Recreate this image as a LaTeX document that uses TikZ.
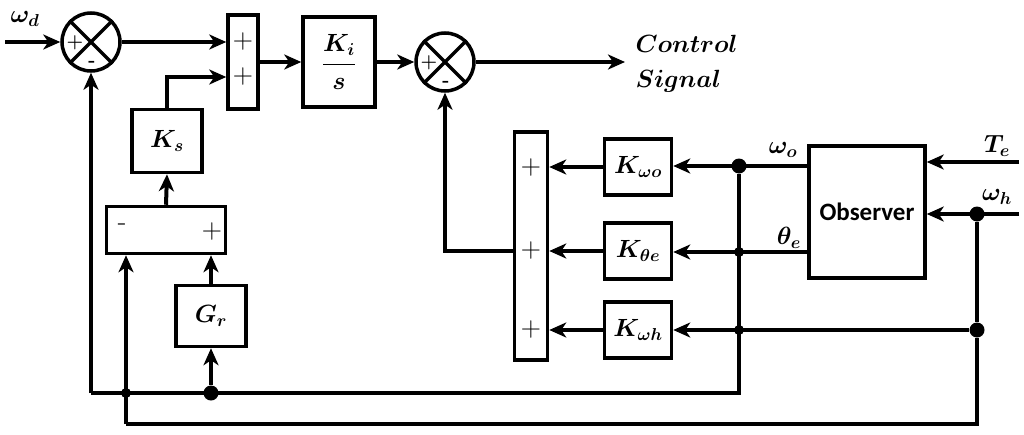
\documentclass[tikz,border=0pt]{standalone}
\usepackage{amsmath}
\usepackage{fontspec}
\setsansfont{Carlito}
\usetikzlibrary{arrows.meta}

\begin{document}
\begin{tikzpicture}[x=1pt, y=-1pt,
		blk/.style = {draw, line width=3.5pt, rectangle, inner sep=0pt},
		sumc/.style = {draw, line width=3.5pt, circle, minimum size=58pt, inner sep=0pt},
		sig/.style = {line width=4pt, -{Stealth[length=17pt,width=15pt,inset=5pt]}},
		wire/.style = {line width=4pt},
		lbl/.style = {font=\fontsize{24}{28}\selectfont\boldmath},
		pls/.style = {font=\fontsize{28}{30}\selectfont, inner sep=0pt},
		cpl/.style = {font=\fontsize{19}{20}\selectfont\bfseries, inner sep=0pt},
		dot/.style = {circle, fill, inner sep=0pt, minimum size=15pt},
		sdot/.style = {circle, fill, inner sep=0pt, minimum size=10pt}]
	\useasboundingbox (0,0) rectangle (1024,434);

	% forward path
	\node[sumc] (s1) at (91,42) {};
	\draw[line width=3.5pt] (s1.north west) -- (s1.south east) (s1.north east) -- (s1.south west);
	\node[cpl] (s1p) at (75,43) {+};
	\node[cpl] (s1m) at (92,64) {-};
	\node[blk, minimum width=30pt, minimum height=94pt] (s2) at (243,62) {};
	\node[pls] (s2a) at (243,42) {+};
	\node[pls] (s2b) at (243,77) {+};
	\node[blk, minimum width=72pt, minimum height=90pt, lbl] (ki) at (339,62) {$\dfrac{K_i}{s}$};
	\node[sumc] (s3) at (445,62) {};
	\draw[line width=3.5pt] (s3.north west) -- (s3.south east) (s3.north east) -- (s3.south west);
	\node[cpl] (s3p) at (429,63) {+};
	\node[cpl] (s3m) at (446,84) {-};
	\node[lbl, font=\fontsize{25}{35}\selectfont\boldmath, anchor=west, align=left] (ctxt) at (632,64) {$Control$\\$Signal$};

	% speed loop
	\node[blk, minimum width=70pt, minimum height=63pt, lbl] (ks) at (167,141) {$K_s$};
	\node[blk, minimum width=119pt, minimum height=47pt] (sub) at (166,230) {};
	\node[pls] (subm) at (122,227) {-};
	\node[pls] (subp) at (212,232) {+};
	\node[blk, minimum width=70pt, minimum height=61pt, lbl] (gr) at (211,316) {$G_r$};

	% state feedback
	\node[blk, minimum width=33pt, minimum height=228pt] (sd) at (531,246) {};
	\node[pls] (sda) at (531,168) {+};
	\node[pls] (sdb) at (531,251) {+};
	\node[pls] (sdc) at (531,330) {+};
	\node[blk, minimum width=67pt, minimum height=56pt, lbl] (kwo) at (638,167) {$K_{\omega o}$};
	\node[blk, minimum width=67pt, minimum height=56pt, lbl] (kte) at (638,251) {$K_{\theta e}$};
	\node[blk, minimum width=67pt, minimum height=56pt, lbl] (kwh) at (638,330) {$K_{\omega h}$};
	\node[blk, minimum width=116pt, minimum height=132pt, font=\fontsize{25}{28}\selectfont\sffamily\bfseries] (obs) at (867,212) {Observer};

	\node[dot] (d1) at (739,166) {};
	\node[sdot] (dth) at (739,252) {};
	\node[sdot] (dwh) at (739,330) {};
	\node[dot] (d2) at (977,214) {};
	\node[dot] (d3) at (977,330) {};
	\node[dot] (dg) at (211,393) {};
	\node[sdot] (dx) at (126,393) {};

	\coordinate (wd) at (5,42);
	\coordinate (ctl) at (625,62);
	\coordinate (te) at (1019,162);
	\coordinate (wh) at (1019,214);
	\coordinate (bm) at (91,393);
	\coordinate (bl) at (126,424);

	\node[lbl] (lwd) at (25,19) {$\omega_d$};
	\node[lbl] (lwo) at (783,150) {$\omega_o$};
	\node[lbl] (lte) at (789,238) {$\theta_e$};
	\node[lbl] (lTe) at (997,146) {$T_e$};
	\node[lbl] (lwh) at (997,197) {$\omega_h$};

	\draw[sig] (wd) -- (s1.west);
	\draw[sig] (s1.east) -- ([yshift=20pt]s2.west);
	\draw[sig] (ks.north) |- ([yshift=-15pt]s2.west);
	\draw[sig] (s2.east) -- (ki.west);
	\draw[sig] (ki.east) -- (s3.west);
	\draw[sig] (s3.east) -- (ctl);
	\draw[sig] (sub.north) -- (ks.south);
	\draw[sig] (gr.north) -- (sub.south -| gr.north);
	\draw[sig] (dg) -- (gr.south);
	\draw[sig] (sd.west |- sdb) -| (s3.south);

	\draw[sig] (kwo.west) -- (sd.east |- kwo.west);
	\draw[sig] (kte.west) -- (sd.east |- kte.west);
	\draw[sig] (kwh.west) -- (sd.east |- kwh.west);
	\draw[sig] (obs.west |- d1) -- (kwo.east |- d1);
	\draw[sig] (obs.west |- dth) -- (kte.east |- dth);
	\draw[sig] (d3) -- (kwh.east |- d3);
	\draw[sig] (te) -- (obs.east |- te);
	\draw[sig] (wh) -- (obs.east |- wh);

	\draw[wire] (d2) -- (d3) |- (bl);
	\draw[sig] (bl) -- (sub.south -| bl);
	\draw[wire] (d1) |- (bm);
	\draw[sig] (bm) -- (s1.south);
\end{tikzpicture}
\end{document}
